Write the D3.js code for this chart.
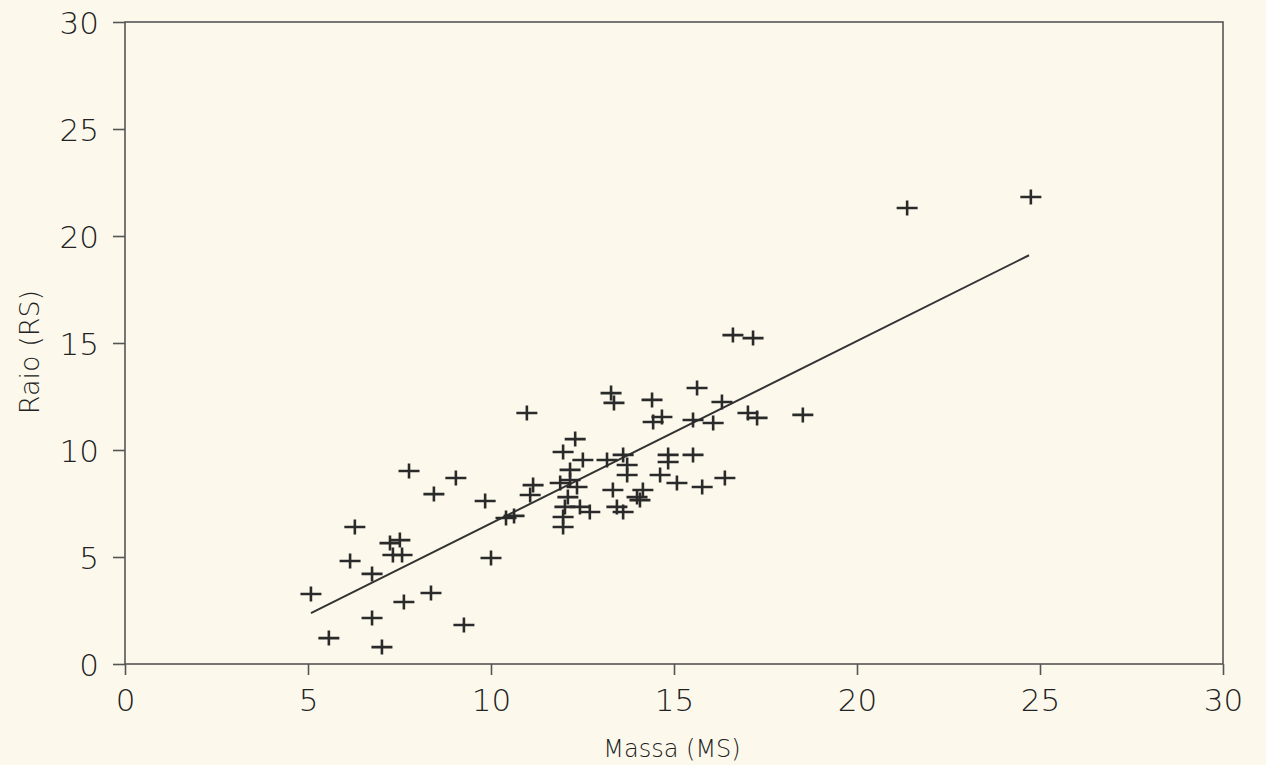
<!DOCTYPE html>
<html>
<head>
<meta charset="utf-8">
<script src="https://cdn.jsdelivr.net/npm/d3@7"></script>
<style>
  html, body { margin: 0; padding: 0; background: #fcf9ec; }
  #mainChart { width: 1266px; height: 765px; }
  text { font-family: "DejaVu Sans", sans-serif; fill: #222; }
</style>
</head>
<body>
<div id="mainChart"></div>
<script>
// mass (MS) / radius (RS) pairs
const massa = [
  5.08, 5.57, 6.28, 6.15, 6.75, 6.75, 7.02, 7.24, 7.51, 7.32,
  7.57, 7.62, 7.76, 8.36, 8.44, 9.04, 9.26, 9.84, 10.0, 10.41,
  10.63, 10.98, 11.97, 12.30, 12.51, 13.17, 13.61, 13.72, 13.72, 12.16,
  11.15, 11.07, 11.89, 12.16, 12.35, 12.10, 12.02, 12.43, 12.70, 11.97,
  11.97, 13.33, 13.44, 13.61, 13.99, 13.28, 13.36, 15.63, 14.40, 16.31,
  14.43, 14.67, 15.52, 16.07, 17.02, 17.27, 18.52, 14.84, 14.84, 15.52,
  14.62, 15.08, 15.77, 16.39, 14.15, 14.07, 16.61, 17.16, 21.37, 24.75
];
const raio = [
  3.27, 1.21, 6.40, 4.81, 4.21, 2.15, 0.79, 5.65, 5.79, 5.09,
  5.09, 2.90, 9.02, 3.32, 7.94, 8.69, 1.82, 7.62, 4.95, 6.82,
  6.92, 11.73, 9.91, 10.51, 9.53, 9.53, 9.77, 9.30, 8.83, 9.07,
  8.36, 7.90, 8.46, 8.60, 8.27, 7.80, 7.34, 7.34, 7.10, 6.87,
  6.40, 8.13, 7.34, 7.10, 7.80, 12.66, 12.20, 12.90, 12.34, 12.24,
  11.31, 11.54, 11.40, 11.26, 11.73, 11.50, 11.64, 9.77, 9.44, 9.77,
  8.83, 8.46, 8.27, 8.69, 8.13, 7.66, 15.37, 15.23, 21.31, 21.82
];
// fitted line end points
const fitX = [5.08, 24.7];
const fitY = [2.38, 19.1];

const xTicks = [0, 5, 10, 15, 20, 25, 30];
const yTicks = [0, 5, 10, 15, 20, 25, 30];

const MARGIN = { TOP: 22, BOTTOM: 101, LEFT: 125, RIGHT: 43 };
const WIDTH = 1266 - MARGIN.LEFT - MARGIN.RIGHT;
const HEIGHT = 765 - MARGIN.TOP - MARGIN.BOTTOM;

const svg = d3
  .select("#mainChart")
  .append("svg")
  .attr("width", 1266)
  .attr("height", 765)
  .append("g")
  .attr("transform", `translate(${MARGIN.LEFT}, ${MARGIN.TOP})`);

const x = d3.scaleLinear().domain([0, 30]).range([0, WIDTH]);
const y = d3.scaleLinear().domain([0, 30]).range([HEIGHT, 0]);

// frame
svg
  .append("rect")
  .attr("x", 0)
  .attr("y", 0)
  .attr("width", WIDTH)
  .attr("height", HEIGHT)
  .attr("fill", "none")
  .attr("stroke", "#555")
  .attr("stroke-width", 1.6);

const xAxisGroup = svg
  .append("g")
  .attr("transform", `translate(0, ${HEIGHT})`)
  .call(d3.axisBottom(x).tickValues(xTicks).tickSize(11).tickSizeOuter(0).tickPadding(14));

const yAxisGroup = svg
  .append("g")
  .call(d3.axisLeft(y).tickValues(yTicks).tickSize(12).tickSizeOuter(0).tickPadding(14));

[xAxisGroup, yAxisGroup].forEach((g) => {
  g.select(".domain").remove();
  g.selectAll("line").attr("stroke", "#555").attr("stroke-width", 1.6);
  g.selectAll("text")
    .style("font-family", '"DejaVu Sans", sans-serif')
    .style("font-size", "31px")
    .style("font-weight", 200)
    .attr("fill", "#1e1e1e");
});
yAxisGroup.selectAll("text").attr("dy", "0.36em");
xAxisGroup.selectAll("text").attr("dy", "0.72em");

// axis titles
svg
  .append("text")
  .attr("x", x(15) - 2)
  .attr("y", HEIGHT + 93)
  .attr("text-anchor", "middle")
  .style("font-size", "24px")
  .style("font-weight", 200)
  .text("Massa (MS)");

svg
  .append("text")
  .attr("x", -(y(15) + 9))
  .attr("y", -86)
  .attr("transform", "rotate(-90)")
  .attr("text-anchor", "middle")
  .style("font-size", "27px")
  .style("font-weight", 200)
  .text("Raio (RS)");

// regression line
svg
  .append("line")
  .attr("x1", x(fitX[0]))
  .attr("y1", y(fitY[0]))
  .attr("x2", x(fitX[1]))
  .attr("y2", y(fitY[1]))
  .attr("stroke", "#333")
  .attr("stroke-width", 2);

// plus markers
const pts = massa.map((m, i) => ({ m: m, r: raio[i] }));
const HW = 10.5, HH = 7.5;
svg
  .selectAll("path.pt")
  .data(pts)
  .enter()
  .append("path")
  .attr("class", "pt")
  .attr("d", (d) => {
    const cx = x(d.m), cy = y(d.r);
    return `M${cx - HW},${cy}H${cx + HW}M${cx},${cy - HH}V${cy + HH}`;
  })
  .attr("stroke", "#2a2a2a")
  .attr("stroke-width", 2.6)
  .attr("fill", "none");
</script>
</body>
</html>
